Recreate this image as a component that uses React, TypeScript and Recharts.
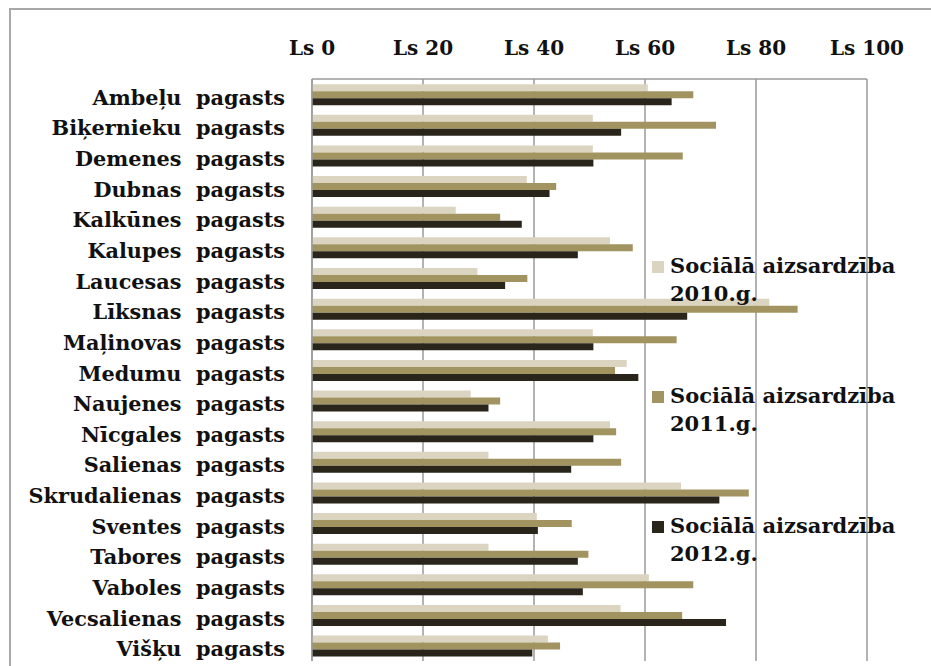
import React from 'react';
import { BarChart, Bar, XAxis, YAxis, CartesianGrid, Legend } from 'recharts';

// pagasti (double space kept as in the source slide)
const categories = [
  'Ambeļu  pagasts',
  'Biķernieku  pagasts',
  'Demenes  pagasts',
  'Dubnas  pagasts',
  'Kalkūnes  pagasts',
  'Kalupes  pagasts',
  'Laucesas  pagasts',
  'Līksnas  pagasts',
  'Maļinovas  pagasts',
  'Medumu  pagasts',
  'Naujenes  pagasts',
  'Nīcgales  pagasts',
  'Salienas  pagasts',
  'Skrudalienas  pagasts',
  'Sventes  pagasts',
  'Tabores  pagasts',
  'Vaboles  pagasts',
  'Vecsalienas  pagasts',
  'Višķu  pagasts',
];

const values2010 = [60.5, 50.6, 50.6, 38.7, 25.9, 53.7, 29.8, 82.4, 50.6, 56.7, 28.6, 53.7, 31.8, 66.5, 40.5, 31.8, 60.7, 55.6, 42.5];
const values2011 = [68.7, 72.8, 66.8, 44.0, 33.9, 57.8, 38.8, 87.5, 65.7, 54.6, 33.9, 54.8, 55.7, 78.7, 46.8, 49.8, 68.7, 66.7, 44.7];
const values2012 = [64.8, 55.7, 50.7, 42.8, 37.8, 47.9, 34.8, 67.6, 50.7, 58.8, 31.8, 50.7, 46.7, 73.4, 40.7, 47.9, 48.8, 74.6, 39.7];

const xTicks = [0, 20, 40, 60, 80, 100];

const series = [
  { key: 'y2010', name: 'Sociālā aizsardzība 2010.g.', line1: 'Sociālā aizsardzība', line2: '2010.g.', color: '#dbd4c0' },
  { key: 'y2011', name: 'Sociālā aizsardzība 2011.g.', line1: 'Sociālā aizsardzība', line2: '2011.g.', color: '#a19461' },
  { key: 'y2012', name: 'Sociālā aizsardzība 2012.g.', line1: 'Sociālā aizsardzība', line2: '2012.g.', color: '#29251a' },
];

const data = categories.map((name, i) => ({
  name,
  y2010: values2010[i],
  y2011: values2011[i],
  y2012: values2012[i],
}));

const FONT = '"DejaVu Serif", serif';
const GRID = '#9a9a9a';

const XTick = (props: any) => {
  const { x, y, payload } = props;
  return (
    <text x={x} y={y - 22} textAnchor="middle" fontFamily={FONT} fontWeight="bold" fontSize={20} fill="#111">
      {`Ls ${payload.value}`}
    </text>
  );
};

const YTick = (props: any) => {
  const { x, y, payload } = props;
  return (
    <text
      x={x - 25}
      y={y + 10.5}
      textAnchor="end"
      fontFamily={FONT}
      fontWeight="bold"
      fontSize={20.8}
      fill="#111"
      style={{ whiteSpace: 'pre' }}
    >
      {payload.value}
    </text>
  );
};

const renderLegend = () => (
  <div style={{ fontFamily: FONT, fontWeight: 'bold', fontSize: 21, lineHeight: '28px', color: '#111' }}>
    {series.map((s) => (
      <div key={s.key} style={{ position: 'relative', paddingLeft: 20, height: 130 }}>
        <span
          style={{ position: 'absolute', left: 2, top: 9, width: 12, height: 12, background: s.color }}
        />
        <div>{s.line1}</div>
        <div>{s.line2}</div>
      </div>
    ))}
  </div>
);

export default function App() {
  return (
    <div style={{ position: 'absolute', left: 0, top: 0, width: 931, height: 666, overflow: 'hidden', background: '#fff' }}>
      <div
        style={{
          position: 'absolute',
          left: 9,
          top: 8,
          width: 1000,
          height: 1000,
          borderTop: '2px solid #a8a8a8',
          borderLeft: '2px solid #a8a8a8',
        }}
      />
      <div style={{ position: 'absolute', left: 0, top: 0 }}>
        <BarChart
          width={931}
          height={666}
          data={data}
          layout="vertical"
          margin={{ top: 39, right: 64, bottom: 5, left: 0 }}
          barCategoryGap="17%"
          barGap={0}
        >
          <CartesianGrid horizontal={false} stroke={GRID} strokeWidth={1.5} />
          <XAxis
            type="number"
            orientation="top"
            domain={[0, 100]}
            ticks={xTicks}
            height={40}
            tickSize={0}
            tickLine={false}
            axisLine={{ stroke: GRID, strokeWidth: 1.5 }}
            tick={<XTick />}
            interval={0}
          />
          <YAxis
            type="category"
            dataKey="name"
            width={312}
            tickSize={0}
            tickLine={false}
            axisLine={{ stroke: GRID, strokeWidth: 1.5 }}
            tick={<YTick />}
            interval={0}
          />
          <Legend
            layout="vertical"
            align="center"
            verticalAlign="middle"
            wrapperStyle={{ left: 650, top: 252, width: 281 }}
            content={renderLegend}
          />
          {series.map((s) => (
            <Bar key={s.key} dataKey={s.key} name={s.name} fill={s.color} isAnimationActive={false} />
          ))}
        </BarChart>
      </div>
    </div>
  );
}
